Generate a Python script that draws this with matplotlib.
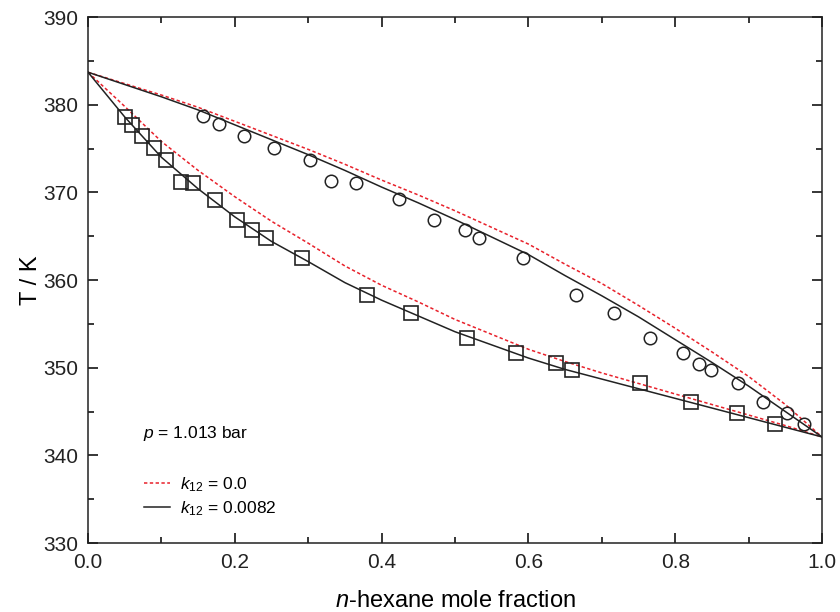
import matplotlib
matplotlib.use("Agg")
import matplotlib.pyplot as plt
from matplotlib.ticker import MultipleLocator

plt.rcParams['font.family'] = ['Liberation Sans', 'DejaVu Sans']
plt.rcParams['mathtext.fontset'] = 'custom'
plt.rcParams['mathtext.rm'] = 'Liberation Sans'
plt.rcParams['mathtext.it'] = 'Liberation Sans:italic'

# experimental points, liquid (squares) and vapour (circles)
x_liq = [0.050, 0.060, 0.073, 0.090, 0.106, 0.127, 0.143, 0.173, 0.203, 0.224,
         0.242, 0.291, 0.380, 0.440, 0.516, 0.583, 0.638, 0.659, 0.752, 0.821,
         0.884, 0.936]
T_liq = [378.6, 377.7, 376.4, 375.1, 373.7, 371.2, 371.1, 369.1, 366.9, 365.7,
         364.8, 362.5, 358.3, 356.2, 353.4, 351.7, 350.5, 349.7, 348.3, 346.1,
         344.8, 343.6]
x_vap = [0.157, 0.178, 0.213, 0.253, 0.303, 0.331, 0.365, 0.424, 0.471, 0.513,
         0.532, 0.592, 0.665, 0.716, 0.766, 0.810, 0.832, 0.849, 0.885, 0.919,
         0.952, 0.975]
T_vap = [378.7, 377.8, 376.4, 375.1, 373.7, 371.3, 371.1, 369.2, 366.9, 365.7,
         364.8, 362.5, 358.3, 356.2, 353.4, 351.7, 350.4, 349.7, 348.3, 346.1,
         344.8, 343.6]

# model curves
x_calc = [0.0, 0.05, 0.10, 0.15, 0.20, 0.25, 0.30, 0.35, 0.40, 0.45, 0.50,
          0.55, 0.60, 0.65, 0.70, 0.75, 0.80, 0.85, 0.90, 0.95, 1.0]
bub_k0 = [383.7, 379.8, 375.8, 372.5, 369.5, 366.7, 364.2, 361.6, 359.4, 357.5,
          355.5, 353.8, 352.1, 350.7, 349.4, 348.2, 347.0, 345.8, 344.6, 343.4, 342.1]
dew_k0 = [383.7, 382.4, 381.1, 379.7, 378.1, 376.5, 374.9, 373.2, 371.4, 369.7,
          367.9, 366.0, 364.1, 361.8, 359.6, 357.1, 354.5, 351.8, 349.0, 345.8, 342.1]
bub_k1 = [383.7, 378.6, 374.0, 370.4, 367.2, 364.4, 362.1, 359.7, 357.7, 355.9,
          354.1, 352.6, 351.1, 349.8, 348.7, 347.6, 346.5, 345.4, 344.3, 343.2, 342.1]
dew_k1 = [383.7, 382.3, 380.9, 379.4, 377.7, 376.0, 374.3, 372.5, 370.6, 368.8,
          366.9, 364.9, 362.9, 360.5, 358.2, 355.8, 353.2, 350.6, 347.9, 345.0, 342.1]

fig = plt.figure(figsize=(8.4, 6.12), dpi=100)
ax = fig.add_axes([0.1048, 0.1127, 0.8738, 0.8595])

l0, = ax.plot(x_calc, bub_k0, color='#e8212b', ls=(0, (2.2, 1.6)), lw=1.1)
ax.plot(x_calc, dew_k0, color='#e8212b', ls=(0, (2.2, 1.6)), lw=1.1)
l1, = ax.plot(x_calc, bub_k1, color='#222222', lw=1.1)
ax.plot(x_calc, dew_k1, color='#222222', lw=1.1)

ax.plot(x_liq, T_liq, ls='none', marker='s', ms=10, mfc='none', mec='#222222', mew=1.2)
ax.plot(x_vap, T_vap, ls='none', marker='o', ms=9, mfc='none', mec='#222222', mew=1.1)

ax.set_xlim(0, 1)
ax.set_ylim(330, 390)
ax.xaxis.set_major_locator(MultipleLocator(0.2))
ax.xaxis.set_minor_locator(MultipleLocator(0.1))
ax.yaxis.set_major_locator(MultipleLocator(10))
ax.yaxis.set_minor_locator(MultipleLocator(5))
ax.xaxis.set_major_formatter(matplotlib.ticker.FormatStrFormatter('%.1f'))
ax.tick_params(which='both', direction='in', top=True, right=True, labelsize=15, width=1.1,
               labelcolor='#222222')
ax.tick_params(which='major', length=7, pad=7)
ax.tick_params(which='minor', length=4)
for s in ax.spines.values():
    s.set_linewidth(1.1)
    s.set_color('#222222')

ax.set_xlabel(r'$\mathit{n}$-hexane mole fraction', fontsize=17, labelpad=13)
ax.set_ylabel('T / K', fontsize=17, labelpad=1)

ax.text(0.075, 342.5, r'$\mathit{p}$ = 1.013 bar', fontsize=12.5, va='center')
ax.legend([l0, l1], [r'$\mathit{k_{12}}$ = 0.0', r'$\mathit{k_{12}}$ = 0.0082'],
          loc='lower left', bbox_to_anchor=(0.055, 0.018), frameon=False,
          fontsize=12.5, handlelength=1.5, handletextpad=0.6, labelspacing=0.3)

fig.savefig('out.png', dpi=100)
